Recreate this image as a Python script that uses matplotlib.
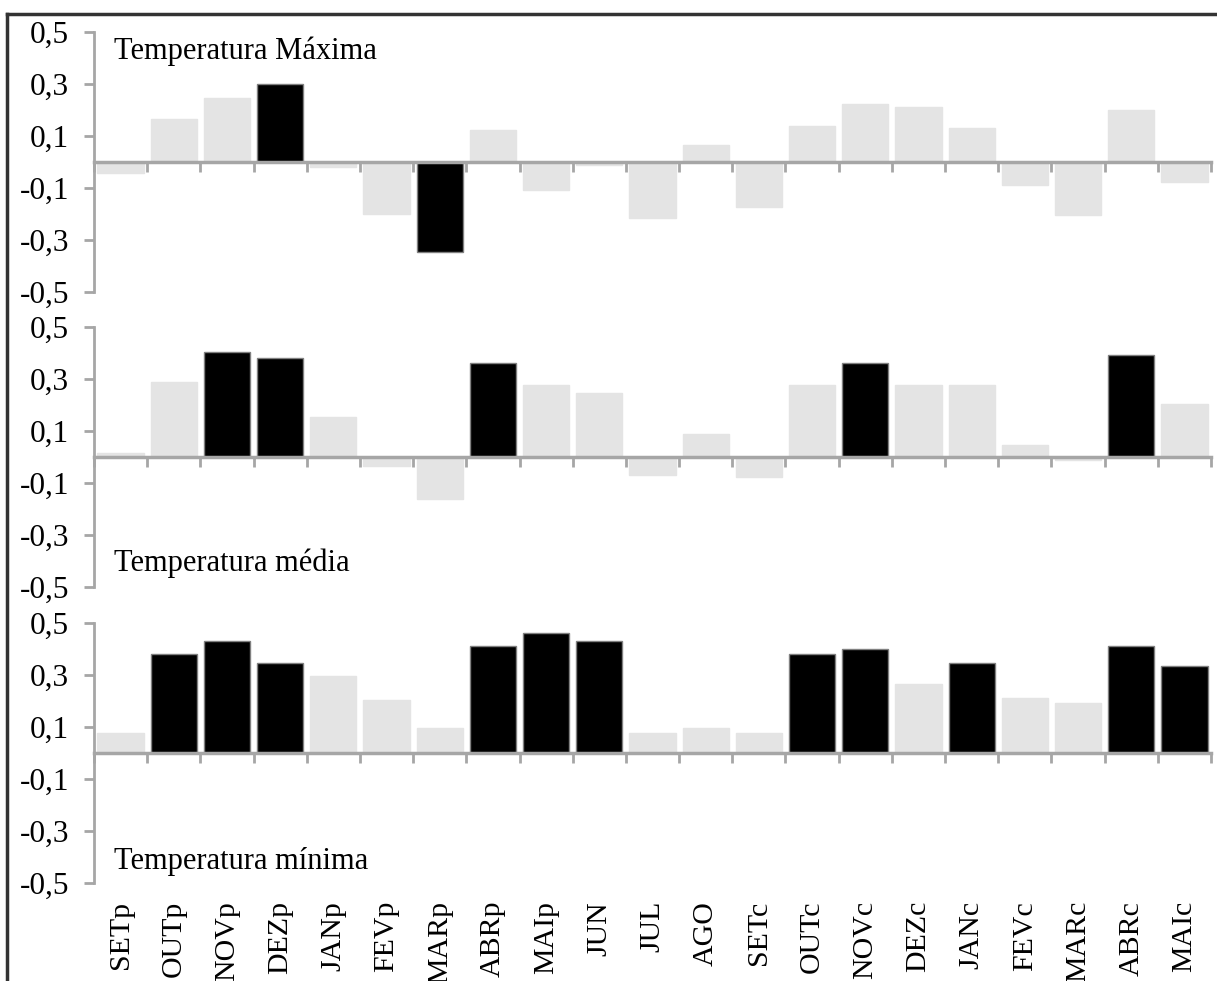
import numpy as np
import matplotlib
matplotlib.use('Agg')
import matplotlib.pyplot as plt
from matplotlib.lines import Line2D

plt.rcParams['font.family'] = ['Liberation Serif', 'DejaVu Serif']

# categories (months, p = previous year, c = current year)
months = ['SETp', 'OUTp', 'NOVp', 'DEZp', 'JANp', 'FEVp', 'MARp', 'ABRp', 'MAIp', 'JUN',
          'JUL', 'AGO', 'SETc', 'OUTc', 'NOVc', 'DEZc', 'JANc', 'FEVc', 'MARc', 'ABRc', 'MAIc']

# correlation values per panel
t_max = [-0.045, 0.163, 0.246, 0.297, -0.022, -0.20, -0.349, 0.12, -0.108, -0.012,
         -0.215, 0.065, -0.173, 0.138, 0.222, 0.212, 0.128, -0.09, -0.205, 0.20, -0.079]
t_med = [0.013, 0.286, 0.401, 0.379, 0.151, -0.036, -0.163, 0.359, 0.276, 0.244,
         -0.069, 0.087, -0.079, 0.276, 0.359, 0.276, 0.276, 0.046, -0.012, 0.39, 0.203]
t_min = [0.076, 0.378, 0.429, 0.346, 0.294, 0.201, 0.096, 0.409, 0.46, 0.429,
         0.074, 0.096, 0.074, 0.378, 0.397, 0.263, 0.346, 0.21, 0.19, 0.409, 0.335]

# 1 = significant (black bar)
sig_max = [0, 0, 0, 1, 0, 0, 1, 0, 0, 0, 0, 0, 0, 0, 0, 0, 0, 0, 0, 0, 0]
sig_med = [0, 0, 1, 1, 0, 0, 0, 1, 0, 0, 0, 0, 0, 0, 1, 0, 0, 0, 0, 1, 0]
sig_min = [0, 1, 1, 1, 0, 0, 0, 1, 1, 1, 0, 0, 0, 1, 1, 0, 1, 0, 0, 1, 1]

yticks = [-0.5, -0.3, -0.1, 0.1, 0.3, 0.5]
ytick_labels = ['-0,5', '-0,3', '-0,1', '0,1', '0,3', '0,5']

titles = ['Temperatura Máxima', 'Temperatura média', 'Temperatura mínima']
title_y = [0.894, 0.059, 0.052]

AXIS_GRAY = '#a6a6a6'
LIGHT = '#e4e4e4'

W, H = 1217, 981
fig = plt.figure(figsize=(W / 100, H / 100), dpi=100)

left = 94 / W
width = 1117 / W
tops = [31.7, 326.7, 622.7]
panel_h = 260

x = np.arange(len(months))
series = [(t_max, sig_max), (t_med, sig_med), (t_min, sig_min)]

for i, (vals, sig) in enumerate(series):
    bottom = 1 - (tops[i] + panel_h) / H
    ax = fig.add_axes([left, bottom, width, panel_h / H])
    ax.patch.set_alpha(0)

    colors = ['#000000' if s else LIGHT for s in sig]
    edges = ['#808080' if s else LIGHT for s in sig]
    ax.bar(x, vals, width=0.87, color=colors, edgecolor=edges, linewidth=1, zorder=1)

    ax.set_xlim(-0.5, len(months) - 0.5)
    ax.set_ylim(-0.5, 0.5)

    for s in ['top', 'right']:
        ax.spines[s].set_visible(False)
    ax.spines['left'].set_color(AXIS_GRAY)
    ax.spines['left'].set_linewidth(2)
    ax.spines['bottom'].set_position(('data', 0))
    ax.spines['bottom'].set_color(AXIS_GRAY)
    ax.spines['bottom'].set_linewidth(2.5)
    ax.spines['bottom'].set_zorder(3)

    ax.set_yticks(yticks)
    ax.set_yticklabels(ytick_labels)
    ax.tick_params(axis='y', direction='out', length=7, width=2, color=AXIS_GRAY,
                   labelsize=22.5, pad=11)

    # category boundary ticks on the zero line
    ax.set_xticks(np.arange(-0.5, len(months), 1))
    ax.set_xticklabels([])
    ax.tick_params(axis='x', direction='out', length=7, width=2, color=AXIS_GRAY)

    ax.text(0.018, title_y[i], titles[i], transform=ax.transAxes, fontsize=22,
            va='baseline', ha='left')

    if i == 2:
        sec = ax.secondary_xaxis('bottom')
        sec.set_xticks(x)
        sec.set_xticklabels(months, rotation=90, fontsize=21.5)
        sec.tick_params(length=0, pad=13)
        sec.spines['bottom'].set_visible(False)

# outer frame (top and left edges)
fx = 7.3 / W
fy = 1 - 14.3 / H
fig.add_artist(Line2D([fx, 1], [fy, fy], transform=fig.transFigure, color='#333333', lw=2.5))
fig.add_artist(Line2D([fx, fx], [0, fy], transform=fig.transFigure, color='#333333', lw=2.5))

fig.savefig('out.png', dpi=100)
